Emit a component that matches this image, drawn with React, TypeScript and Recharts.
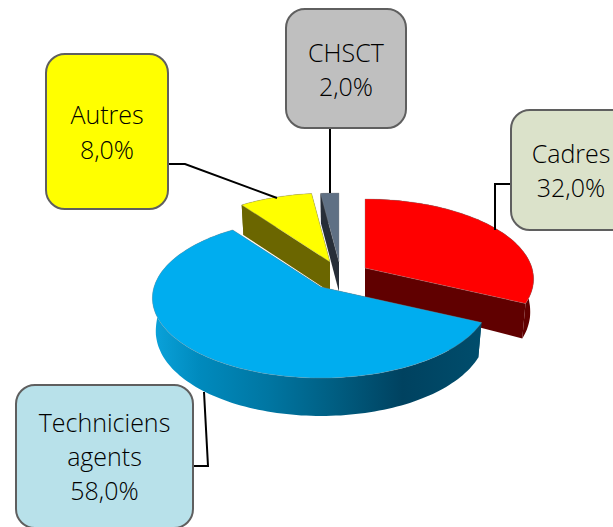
import { PieChart, Pie } from 'recharts';

const categories = ['Cadres', 'CHSCT', 'Autres', 'Techniciens agents'];
const shares = [32, 2, 8, 58];

const rows = categories.map((name, i) => ({ name, value: shares[i] }));

// pie look, the tilt and perspective of the 3D view
const CX = 321;
const CY = 287;
const RADIUS = 167;
const TILT = 0.47;
const PERSPECTIVE = 0.1375;
const BOTTOM_SHRINK = 0.98;

const TOP_FILL: Record<string, string> = {
  Cadres: '#ff0000',
  CHSCT: '#5f7084',
  Autres: '#ffff00',
  'Techniciens agents': '#00adef',
};
const WALL_FILL: Record<string, string> = {
  Cadres: '#600000',
  CHSCT: '#272e38',
  Autres: '#6b6600',
  'Techniciens agents': 'url(#blueWall)',
};
// how far each exploded slice is pulled away
const EXPLODE: Record<string, [number, number]> = {
  Cadres: [44, -19],
  CHSCT: [18, -25],
  Autres: [9, -25],
  'Techniciens agents': [0, 0],
};

const BOXES: Record<string, { x: number; y: number; w: number; h: number; fill: string; lines: number[]; leader: string }> = {
  Cadres: { x: 511, y: 110, w: 120, h: 120, fill: '#dbe2ca', lines: [153, 187], leader: 'M511 184 H495 V230' },
  CHSCT: { x: 286, y: 9, w: 120, h: 119, fill: '#bfbfbf', lines: [52, 86], leader: 'M330 128 V193' },
  Autres: { x: 46, y: 54, w: 122, h: 155, fill: '#ffff00', lines: [114, 149], leader: 'M168 164 H185 L277 198' },
  'Techniciens agents': { x: 16, y: 385, w: 177, h: 143, fill: '#b8e1ea', lines: [422, 456, 490], leader: 'M193 466 H208 L204 392' },
};

const project = (deg: number, r: number, ox: number, oy: number) => {
  const a = (deg * Math.PI) / 180;
  const ux = Math.cos(a) * r;
  const uy = -Math.sin(a) * r;
  const p = 1 / (1 - PERSPECTIVE * uy);
  return { x: CX + ox + RADIUS * ux * p, y: CY + oy + RADIUS * TILT * uy * p, p };
};

const depthAt = (p: number) => (p <= 1 ? 30 : 30 + 8 * Math.sqrt((p - 1) / 0.16));

const toPath = (pts: { x: number; y: number }[]) =>
  'M' + pts.map((q) => `${q.x.toFixed(1)} ${q.y.toFixed(1)}`).join(' L') + ' Z';

function Slice3D(props: any) {
  const { startAngle, endAngle, name } = props;
  const label = name ?? props.payload?.name;
  const [ox, oy] = EXPLODE[label];
  const lo = Math.min(startAngle, endAngle);
  const hi = Math.max(startAngle, endAngle);
  const rim = [];
  for (let d = lo; d < hi; d += 1.5) rim.push(project(d, 1, ox, oy));
  rim.push(project(hi, 1, ox, oy));
  const apex = project(0, 0, ox, oy);
  const down = (q: any) => ({ x: apex.x + (q.x - apex.x) * BOTTOM_SHRINK, y: q.y + depthAt(q.p) });

  const first = rim[0];
  const last = rim[rim.length - 1];
  return (
    <g>
      <path d={toPath([apex, first, down(first), down(apex)])} fill={WALL_FILL[label]} />
      <path d={toPath([apex, last, down(last), down(apex)])} fill={WALL_FILL[label]} />
      <path d={toPath([...rim, ...rim.map(down).reverse()])} fill={WALL_FILL[label]} />
      <path d={toPath([apex, ...rim])} fill={TOP_FILL[label]} stroke="#8c8c8c" strokeOpacity={0.45} strokeWidth={0.75} />
    </g>
  );
}

function BoxLabel(props: any) {
  const { name, percent } = props;
  const box = BOXES[name];
  const words = name.split(' ');
  const text = [...words, `${(percent * 100).toFixed(1).replace('.', ',')}%`];
  return (
    <g>
      <path d={box.leader} fill="none" stroke="#000" strokeWidth={2} />
      <rect x={box.x} y={box.y} width={box.w} height={box.h} rx={19} fill={box.fill} stroke="#5f5f5f" strokeWidth={2} />
      {text.map((t, i) => (
        <text
          key={t}
          x={box.x + box.w / 2}
          y={box.lines[i]}
          textAnchor="middle"
          dominantBaseline="central"
          fontFamily="'Open Sans', sans-serif"
          fontWeight={300}
          fontSize={25}
          fill="#000"
        >
          {t}
        </text>
      ))}
    </g>
  );
}

export default function App() {
  return (
    <div style={{ position: 'absolute', left: 0, top: 0, width: 613, height: 527, overflow: 'hidden', background: '#fff' }}>
      <PieChart width={613} height={527} margin={{ top: 0, right: 0, bottom: 0, left: 0 }}>
        <defs>
          <linearGradient id="blueWall" gradientUnits="userSpaceOnUse" x1={154} y1={0} x2={481} y2={0}>
            <stop offset="0%" stopColor="#0aa2da" />
            <stop offset="14%" stopColor="#008abd" />
            <stop offset="35%" stopColor="#0076a2" />
            <stop offset="55%" stopColor="#005e82" />
            <stop offset="76%" stopColor="#004260" />
            <stop offset="100%" stopColor="#004d6c" />
          </linearGradient>
        </defs>
        {/* counter-clockwise from the red slice so the blue one paints last */}
        <Pie
          data={rows}
          dataKey="value"
          nameKey="name"
          cx={CX}
          cy={CY}
          outerRadius={RADIUS}
          startAngle={-25.2}
          endAngle={334.8}
          stroke="none"
          isAnimationActive={false}
          shape={Slice3D}
          activeShape={Slice3D}
          inactiveShape={Slice3D}
          label={BoxLabel}
          labelLine={false}
        />
      </PieChart>
    </div>
  );
}
